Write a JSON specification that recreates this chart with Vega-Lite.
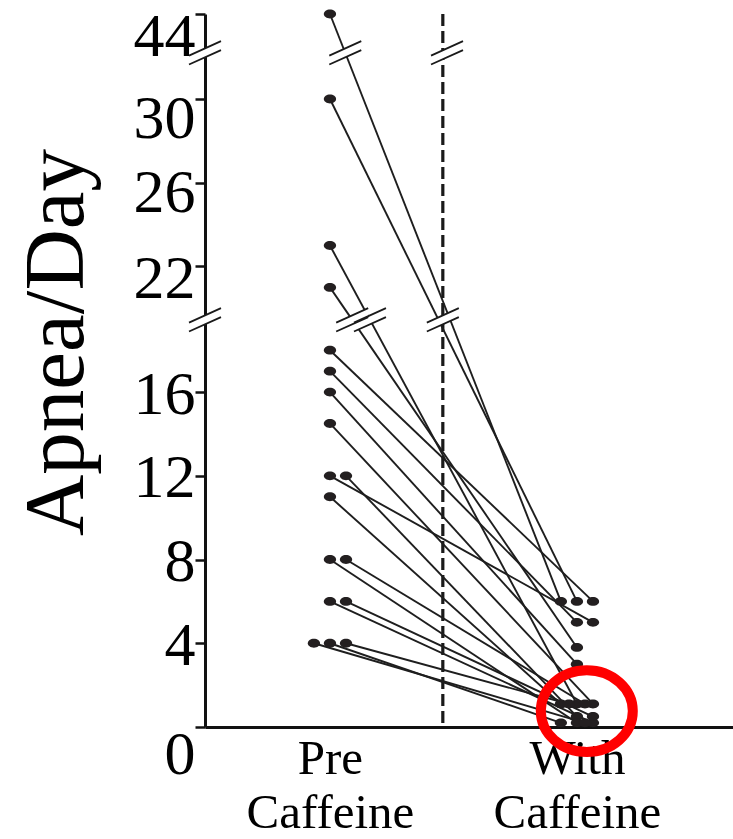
{
  "$schema": "https://vega.github.io/schema/vega-lite/v6.json",
  "width": 528,
  "height": 713,
  "autosize": {"type": "none"},
  "padding": {"left": 205, "top": 14, "right": 0, "bottom": 112},
  "background": "white",
  "config": {"view": {"stroke": null}, "font": "Liberation Serif"},
  "datasets": {
    "subjects": [
      {"subject": 1, "pre": 30, "with": 6},
      {"subject": 2, "pre": 18, "with": 6},
      {"subject": 3, "pre": 44, "with": 6},
      {"subject": 4, "pre": 23, "with": 1.1},
      {"subject": 5, "pre": 21, "with": 3.8},
      {"subject": 6, "pre": 17, "with": 5},
      {"subject": 7, "pre": 16, "with": 3},
      {"subject": 8, "pre": 14.5, "with": 1.1},
      {"subject": 9, "pre": 12, "with": 5},
      {"subject": 10, "pre": 12, "with": 0.5},
      {"subject": 11, "pre": 11, "with": 1.1},
      {"subject": 12, "pre": 8, "with": 0.2},
      {"subject": 13, "pre": 8, "with": 1.1},
      {"subject": 14, "pre": 6, "with": 0.2},
      {"subject": 15, "pre": 6, "with": 0.5},
      {"subject": 16, "pre": 4, "with": 0.2},
      {"subject": 17, "pre": 4, "with": 1.1},
      {"subject": 18, "pre": 4, "with": 0.2}
    ],
    "breaks": [
      {"pos": -0.506, "value": 37.6},
      {"pos": -0.506, "value": 19.45},
      {"pos": 0.062, "value": 37.6},
      {"pos": 0.09, "value": 19.45},
      {"pos": 0.162, "value": 19.45},
      {"pos": 0.474, "value": 37.6},
      {"pos": 0.457, "value": 19.45}
    ],
    "highlight": [{"pos": 1.04, "value": 0.76}]
  },
  "layer": [
    {
      "data": {"values": [{}]},
      "mark": {"type": "rule", "color": "#1a1a1a", "strokeWidth": 3.2, "strokeDash": [12, 5]},
      "encoding": {
        "x": {"datum": 0.457, "type": "quantitative", "scale": {"domain": [-0.506, 1.632], "nice": false, "zero": false}},
        "y": {"datum": 44, "type": "quantitative", "scale": {"domain": [0, 30, 44], "range": [713, 85, 0], "nice": false, "zero": false}},
        "y2": {"datum": 0}
      }
    },
    {
      "data": {"name": "subjects"},
      "transform": [
        {"fold": ["pre", "with"], "as": ["phase", "value"]},
        {"window": [{"op": "row_number", "as": "rank"}], "groupby": ["phase", "value"], "sort": [{"field": "subject"}]},
        {"calculate": "(datum.phase == 'with' ? 1 : 0) + 0.065 * [0, 1, -1, 0.5, -0.5][datum.rank - 1]", "as": "pos"}
      ],
      "layer": [
        {
          "mark": {"type": "line", "color": "#1e1e1e", "strokeWidth": 1.9},
          "encoding": {
            "x": {
              "field": "pos", "type": "quantitative",
              "scale": {"domain": [-0.506, 1.632], "nice": false, "zero": false},
              "axis": {
                "values": [0, 1],
                "labelExpr": "datum.value == 0 ? ['Pre', 'Caffeine'] : ['With', 'Caffeine']",
                "ticks": false, "tickSize": 0, "grid": false,
                "domainColor": "#111111", "domainWidth": 3,
                "labelFont": "Liberation Serif", "labelFontSize": 49, "labelColor": "#000000",
                "labelPadding": 7, "labelLineHeight": 54, "labelBaseline": "top",
                "labelFlush": false, "labelOverlap": false, "title": null
              }
            },
            "y": {
              "field": "value", "type": "quantitative",
              "scale": {"domain": [0, 30, 44], "range": [713, 85, 0], "nice": false, "zero": false},
              "axis": {
                "values": [0, 4, 8, 12, 16, 22, 26, 30, 44],
                "grid": false,
                "domainColor": "#111111", "domainWidth": 3,
                "tickColor": "#111111", "tickWidth": 2.5, "tickSize": 10,
                "labelFont": "Liberation Serif", "labelFontSize": 62, "labelColor": "#000000",
                "labelPadding": 0, "labelBaseline": "middle",
                "labelOffset": {"condition": [{"test": "datum.value == 0", "value": 27}, {"test": "datum.value == 22", "value": 12}, {"test": "datum.value == 26", "value": 10}, {"test": "datum.value == 30", "value": 19}, {"test": "datum.value == 44", "value": 22}], "value": 2},
                "labelFlush": false, "labelOverlap": false,
                "title": "Apnea/Day",
                "titleFont": "Liberation Serif", "titleFontSize": 85, "titleFontWeight": "normal", "titleColor": "#000000",
                "titleAngle": -90, "titleX": -123, "titleY": 328, "titleAlign": "center", "titleBaseline": "alphabetic"
              }
            },
            "detail": {"field": "subject"}
          }
        },
        {
          "mark": {"type": "point", "shape": "M-1,0 C-1,-0.3977 -0.5523,-0.72 0,-0.72 C0.5523,-0.72 1,-0.3977 1,0 C1,0.3977 0.5523,0.72 0,0.72 C-0.5523,0.72 -1,0.3977 -1,0 Z", "size": 150, "filled": true, "color": "#231f20", "opacity": 1},
          "encoding": {
            "x": {"field": "pos", "type": "quantitative", "scale": {"domain": [-0.506, 1.632], "nice": false, "zero": false}},
            "y": {"field": "value", "type": "quantitative", "scale": {"domain": [0, 30, 44], "range": [713, 85, 0], "nice": false, "zero": false}}
          }
        }
      ]
    },
    {
      "data": {"name": "breaks"},
      "mark": {"type": "point", "shape": "M-1,0.17 L1,-0.73 L1,-0.17 L-1,0.73 Z", "size": 1024, "filled": true, "color": "white", "opacity": 1, "strokeWidth": 0},
      "encoding": {
        "x": {"field": "pos", "type": "quantitative", "scale": {"domain": [-0.506, 1.632], "nice": false, "zero": false}},
        "y": {"field": "value", "type": "quantitative", "scale": {"domain": [0, 30, 44], "range": [713, 85, 0], "nice": false, "zero": false}}
      }
    },
    {
      "data": {"name": "breaks"},
      "mark": {"type": "point", "shape": "M-1,0.17 L1,-0.73 M-1,0.73 L1,-0.17", "size": 1024, "filled": false, "color": "#1a1a1a", "strokeWidth": 1.8, "opacity": 1},
      "encoding": {
        "x": {"field": "pos", "type": "quantitative", "scale": {"domain": [-0.506, 1.632], "nice": false, "zero": false}},
        "y": {"field": "value", "type": "quantitative", "scale": {"domain": [0, 30, 44], "range": [713, 85, 0], "nice": false, "zero": false}}
      }
    },
    {
      "data": {"name": "highlight"},
      "mark": {"type": "point", "shape": "M1,0 C1,0.4915 0.5523,0.89 0,0.89 C-0.5523,0.89 -1,0.4915 -1,0 C-1,-0.4915 -0.5523,-0.89 0,-0.89 C0.5523,-0.89 1,-0.4915 1,0 Z", "size": 8464, "filled": false, "color": "#ff0000", "strokeWidth": 10, "opacity": 1},
      "encoding": {
        "x": {"field": "pos", "type": "quantitative", "scale": {"domain": [-0.506, 1.632], "nice": false, "zero": false}},
        "y": {"field": "value", "type": "quantitative", "scale": {"domain": [0, 30, 44], "range": [713, 85, 0], "nice": false, "zero": false}}
      }
    }
  ]
}
